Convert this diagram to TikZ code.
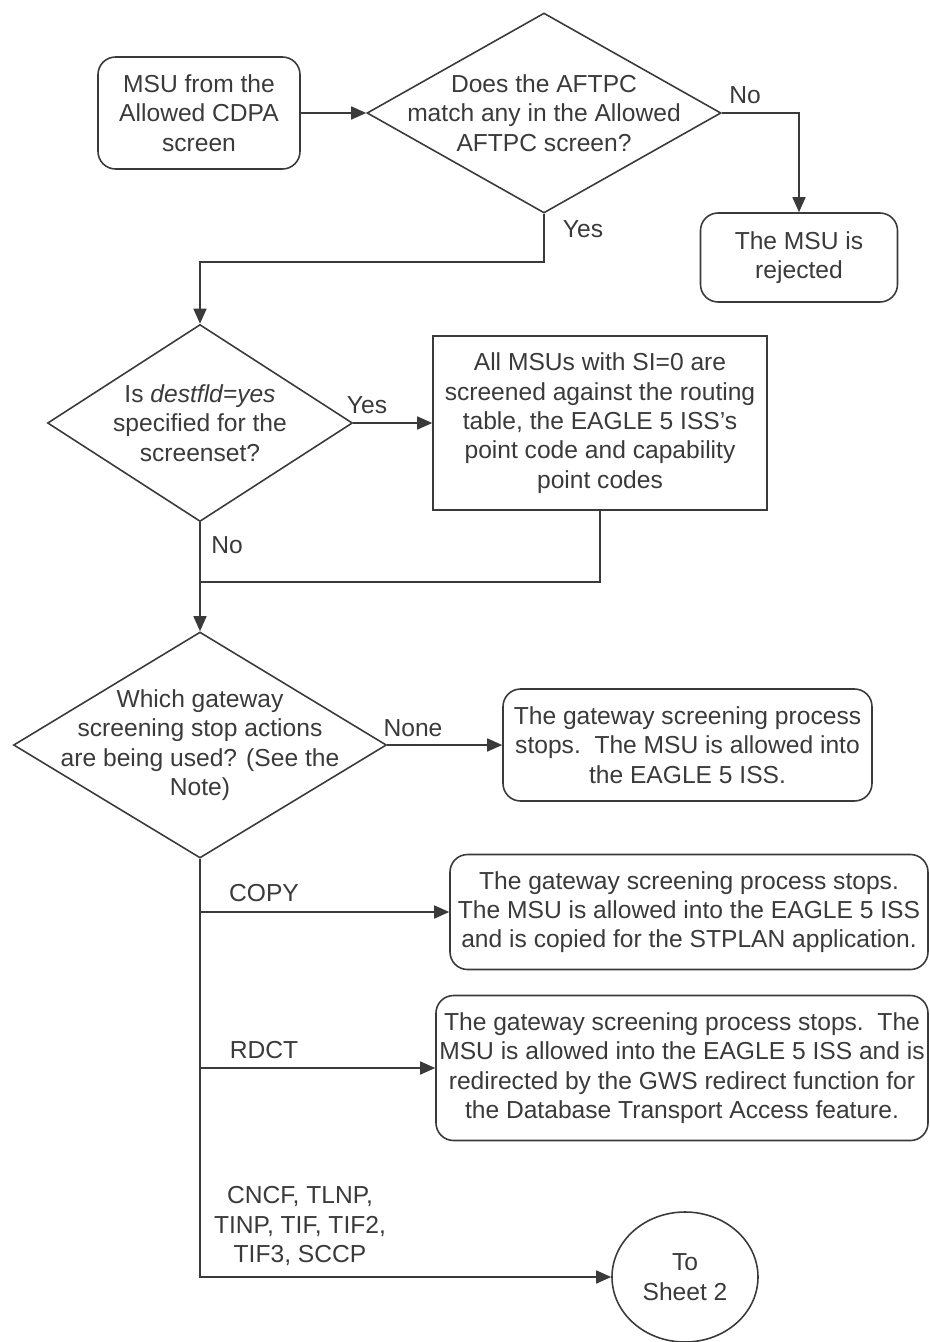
\documentclass[tikz,border=0pt]{standalone}
\usepackage{fontspec}
\setmainfont{Liberation Sans}
\usepackage{tikz}
\usetikzlibrary{shapes.geometric, arrows.meta, positioning}
\definecolor{ink}{HTML}{3A3A3A}
\tikzset{
  rbox/.style = {
    rectangle, rounded corners=10pt,
    draw=ink, line width=0.9pt, text=ink,
    align=center, inner sep=0pt,
    font=\fontsize{14}{16.7}\selectfont
  },
  sbox/.style = {
    rectangle, draw=ink, line width=0.9pt, text=ink,
    align=center, inner sep=0pt,
    font=\fontsize{14}{16.7}\selectfont
  },
  dec/.style = {
    diamond, draw=ink, line width=0.9pt, inner sep=0pt
  },
  conn/.style = {
    ellipse, draw=ink, line width=0.9pt, text=ink,
    align=center, inner sep=0pt,
    font=\fontsize{14}{16.7}\selectfont
  },
  lbl/.style = {text=ink, align=center, inner sep=0pt, font=\fontsize{14}{16.7}\selectfont},
  arr/.style = {-{Triangle[length=0.3cm, width=0.26cm]}, line width=0.9pt, ink},
  ln/.style  = {line width=0.9pt, ink}
}

\begin{document}
\begin{tikzpicture}

\useasboundingbox (0,0) rectangle (18.6,-26.84);

%% top row
\node[rbox, minimum width=4.04cm, minimum height=2.24cm] (start) at (3.98,-2.26)
      {MSU from the\\Allowed CDPA\\screen};
\node[dec, minimum width=7.08cm, minimum height=4cm] (q1) at (10.88,-2.26) {};
\node[lbl] (q1t) at (q1) {Does the AFTPC\\match any in the Allowed\\AFTPC screen?};
\node[rbox, minimum width=3.94cm, minimum height=1.78cm] (rej) at (15.98,-5.15)
      {The MSU is\\rejected};

\draw[arr] (start.east) -- (q1.west);
\draw[arr] (q1.east) -| (rej.north);
\node[lbl] (lno1) at (14.9,-1.9) {No};

%% destfld check
\node[dec, minimum width=6.1cm, minimum height=3.94cm] (q2) at (4,-8.46) {};
\node[lbl] (q2t) at (q2) {Is \textit{destfld=yes}\\specified for the\\screenset?};
\node[sbox, minimum width=6.68cm, minimum height=3.48cm] (proc) at (12,-8.46)
      {All MSUs with SI=0 are\\screened against the routing\\table, the EAGLE 5 ISS's\\point code and capability\\point codes};

\draw[arr] (q1.south) -- ++(0,-0.96) -| (q2.north);
\node[lbl] (lyes1) at (11.66,-4.58) {Yes};
\draw[arr] (q2.east) -- (proc.west);
\node[lbl] (lyes2) at (7.34,-8.1) {Yes};

%% stop actions
\node[dec, minimum width=7.46cm, minimum height=4.52cm] (q3) at (4,-14.9) {};
\node[lbl] (q3t) at (q3) {Which gateway\\screening stop actions\\are being used? (See the\\Note)};
\coordinate (merge) at (4,-11.64);

\draw[arr] (q2.south) -- (q3.north);
\node[lbl] (lno2) at (4.54,-10.9) {No};
\draw[ln] (proc.south) |- (merge);

\node[rbox, minimum width=7.38cm, minimum height=2.24cm] (none) at (13.75,-14.9)
      {The gateway screening process\\stops.\ \ The MSU is allowed into\\the EAGLE 5 ISS.};
\node[rbox, minimum width=9.56cm, minimum height=2.3cm] (copy) at (13.78,-18.24)
      {The gateway screening process stops.\\The MSU is allowed into the EAGLE 5 ISS\\and is copied for the STPLAN application.};
\node[rbox, minimum width=9.84cm, minimum height=2.9cm] (rdct) at (13.64,-21.36)
      {The gateway screening process stops.\ \ The\\MSU is allowed into the EAGLE 5 ISS and is\\redirected by the GWS redirect function for\\the Database Transport Access feature.};
\node[conn, minimum width=2.92cm, minimum height=2.6cm] (sheet) at (13.7,-25.54)
      {To\\Sheet 2};

\draw[arr] (q3.east) -- (none.west);
\node[lbl] (lnone) at (8.26,-14.56) {None};
\draw[arr] (q3.south) |- (sheet.west);
\draw[arr] (q3.south |- copy.west) -- (copy.west);
\node[lbl] (lcopy) at (5.28,-17.86) {COPY};
\draw[arr] (q3.south |- rdct.west) -- (rdct.west);
\node[lbl] (lrdct) at (5.28,-21) {RDCT};
\node[lbl] (lrest) at (6,-24.52) {CNCF, TLNP,\\TINP, TIF, TIF2,\\TIF3, SCCP};

\end{tikzpicture}
\end{document}
